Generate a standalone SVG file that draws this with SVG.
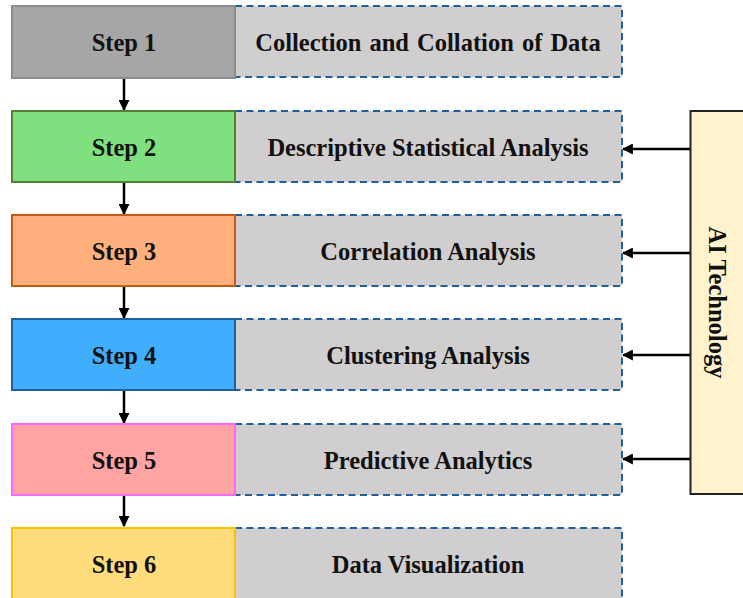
<svg xmlns="http://www.w3.org/2000/svg" width="743" height="598" viewBox="0 0 743 598">
  <style>
    .lbl { font-family: "Liberation Serif", "Times New Roman", serif; font-weight: bold; font-size: 24.5px; fill: #111; text-anchor: middle; }
    .wide { word-spacing: 2px; }
    .step { stroke-width: 2; }
    .desc { fill: #D0CECE; stroke: #1F5F9A; stroke-width: 2; stroke-dasharray: 7 4.5; }
    .conn { stroke: #000; stroke-width: 2.5; fill: none; }
  </style>
  <defs>
    <marker id="arrow" viewBox="0 0 10 10" refX="9" refY="5" markerWidth="4.4" markerHeight="4.4" orient="auto" markerUnits="strokeWidth">
      <path d="M0,0 L10,5 L0,10 z" fill="#000"/>
    </marker>
  </defs>
  <rect width="743" height="598" fill="#fff"/>

  <!-- connectors -->
  <g id="connectors">
    <line class="conn" x1="124" y1="78" x2="124" y2="110" marker-end="url(#arrow)"/>
    <line class="conn" x1="124" y1="182" x2="124" y2="214" marker-end="url(#arrow)"/>
    <line class="conn" x1="124" y1="286" x2="124" y2="318" marker-end="url(#arrow)"/>
    <line class="conn" x1="124" y1="391" x2="124" y2="423" marker-end="url(#arrow)"/>
    <line class="conn" x1="124" y1="495" x2="124" y2="526" marker-end="url(#arrow)"/>
    <line class="conn" x1="690" y1="149" x2="623" y2="149" marker-end="url(#arrow)"/>
    <line class="conn" x1="690" y1="253" x2="623" y2="253" marker-end="url(#arrow)"/>
    <line class="conn" x1="690" y1="355" x2="623" y2="355" marker-end="url(#arrow)"/>
    <line class="conn" x1="690" y1="459" x2="623" y2="459" marker-end="url(#arrow)"/>
  </g>

  <!-- step 1 -->
  <g id="step1">
    <rect class="desc" x="235" y="6" width="387" height="71"/>
    <rect class="step" x="12" y="6" width="223" height="72" fill="#A6A6A6" stroke="#8C8C8C"/>
    <text class="lbl" x="124" y="51">Step 1</text>
    <text class="lbl wide" x="428" y="51">Collection and Collation of Data</text>
  </g>

  <!-- step 2 -->
  <g id="step2">
    <rect class="desc" x="235" y="111" width="387" height="71"/>
    <rect class="step" x="12" y="111" width="223" height="71" fill="#7FE07F" stroke="#548235"/>
    <text class="lbl" x="124" y="156">Step 2</text>
    <text class="lbl" x="428" y="156">Descriptive Statistical Analysis</text>
  </g>

  <!-- step 3 -->
  <g id="step3">
    <rect class="desc" x="235" y="215" width="387" height="71"/>
    <rect class="step" x="12" y="215" width="223" height="71" fill="#FFB07D" stroke="#C55A11"/>
    <text class="lbl" x="124" y="260">Step 3</text>
    <text class="lbl" x="428" y="260">Correlation Analysis</text>
  </g>

  <!-- step 4 -->
  <g id="step4">
    <rect class="desc" x="235" y="319" width="387" height="71"/>
    <rect class="step" x="12" y="319" width="223" height="71" fill="#41AEFD" stroke="#1F5F9A"/>
    <text class="lbl" x="124" y="364">Step 4</text>
    <text class="lbl" x="428" y="364">Clustering Analysis</text>
  </g>

  <!-- step 5 -->
  <g id="step5">
    <rect class="desc" x="235" y="424" width="387" height="71"/>
    <rect class="step" x="12" y="424" width="223" height="71" fill="#FFA3A3" stroke="#FF66FF"/>
    <text class="lbl" x="124" y="469">Step 5</text>
    <text class="lbl" x="428" y="469">Predictive Analytics</text>
  </g>

  <!-- step 6 -->
  <g id="step6">
    <rect class="desc" x="235" y="528" width="387" height="72"/>
    <rect class="step" x="12" y="528" width="223" height="72" fill="#FFDD7D" stroke="#FFC000"/>
    <text class="lbl" x="124" y="573">Step 6</text>
    <text class="lbl" x="428" y="573">Data Visualization</text>
  </g>

  <!-- AI technology side panel -->
  <g id="ai">
    <rect x="690.5" y="111" width="60" height="383" fill="#FFF2CC" stroke="#222" stroke-width="2"/>
    <text class="lbl" transform="translate(709,302.5) rotate(90)" x="0" y="0">AI Technology</text>
  </g>
</svg>
